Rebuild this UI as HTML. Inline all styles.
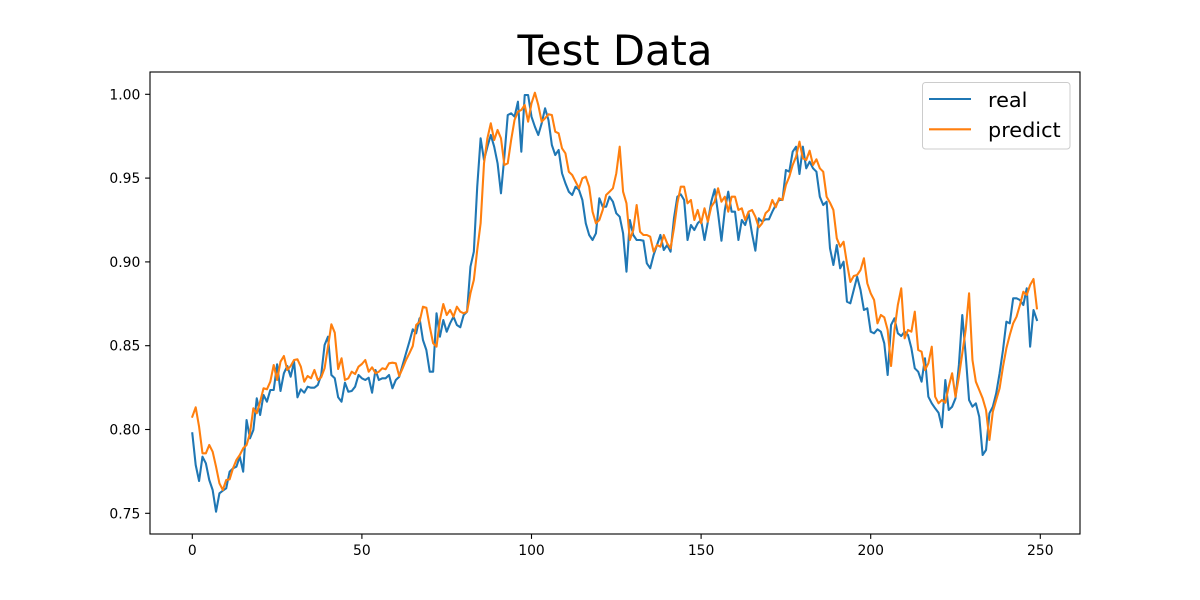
<!DOCTYPE html>
<html>
<head>
<meta charset="utf-8">
<style>
  html, body { margin: 0; padding: 0; background: #ffffff; }
  svg { display: block; }
  text { font-family: "DejaVu Sans", "Liberation Sans", sans-serif; fill: #000; }
</style>
</head>
<body>
<svg width="1200" height="600" viewBox="0 0 1200 600" xmlns="http://www.w3.org/2000/svg">
  <defs>
    <clipPath id="ax">
      <rect x="150" y="72" width="930" height="462"/>
    </clipPath>
  </defs>
  <rect x="0" y="0" width="1200" height="600" fill="#ffffff"/>

  <!-- Title -->
  <text x="615" y="65" font-size="41.7" text-anchor="middle">Test Data</text>

  <!-- Series -->
  <g clip-path="url(#ax)">
    <g transform="matrix(3.392 0 0 1 192.3 0)">
      <polyline fill="none" stroke="#1f77b4" stroke-width="2.08" stroke-linejoin="round" stroke-linecap="square" vector-effect="non-scaling-stroke"
        points="0,433.3 1,465 2,481 3,456.7 4,463.3 5,480 6,490 7,511.7 8,493.3 9,490.7 10,488.3 11,471.7 12,468.3 13,466.7 14,456.7 15,471.7 16,420 17,438.3 18,430 19,398.3 20,415 21,395 22,401.7 23,390 24,390 25,364.3 26,391 27,373.3 28,366 29,376.7 30,361.7 31,397.3 32,389.3 33,392.7 34,386.7 35,387.7 36,387.7 37,385 38,375 39,345 40,336.7 41,375 42,378.3 43,397.3 44,401.7 45,382.7 46,391.7 47,391 48,386.7 49,375 50,378.3 51,380 52,377.7 53,392.7 54,370 55,380 56,378.3 57,378.3 58,375 59,388.3 60,380 61,376.7 62,365 63,353.3 64,341.7 65,329.3 66,333.3 67,318.3 68,340 69,350 70,371.7 71,371.7 72,313.3 73,336.7 74,320 75,331.7 76,323.3 77,316.7 78,325 79,327.3 80,315 81,311.7 82,266.7 83,251.7 84,186.7 85,138.3 86,160 87,146.7 88,135 89,146.7 90,163.3 91,193.3 92,156.7 93,115 94,113.3 95,116.7 96,101.7 97,151.7 98,95 99,95 100,116.7 101,126.7 102,135 103,123.3 104,108.3 105,120 106,145 107,155 108,150 109,173.3 110,183.3 111,191.7 112,195 113,186.7 114,190 115,200 116,223.3 117,235 118,240 119,233.3 120,198.3 121,206.7 122,206.7 123,196.7 124,201.7 125,213.3 126,216.7 127,233.3 128,271.7 129,220 130,235 131,240 132,240 133,240.7 134,263.3 135,268.3 136,255 137,245 138,235 139,250 140,245 141,251.7 142,218.3 143,196.7 144,194.3 145,200 146,240 147,225 148,230 149,223.3 150,220 151,240 152,221.7 153,201.7 154,189.3 155,213.3 156,240.7 157,210 158,191.7 159,211.7 160,211.7 161,240 162,220 163,225 164,213.3 165,233.3 166,250.7 167,218.3 168,221.7 169,219.3 170,219.3 171,211.7 172,205 173,200 174,200 175,170 176,171.7 177,151.7 178,146.7 179,174 180,146.7 181,168.3 182,161.7 183,168.3 184,171.7 185,196.7 186,205 187,201.7 188,248.3 189,265 190,245 191,268.3 192,261.7 193,301.7 194,303.3 195,290 196,276.7 197,290 198,310 199,308.3 200,331.7 201,333.3 202,329.3 203,331.7 204,343.3 205,375 206,325 207,318.3 208,333.3 209,336 210,331.7 211,335 212,348.3 213,368.3 214,371.7 215,381.7 216,358.3 217,396.7 218,403.3 219,408.3 220,412.7 221,427.3 222,380 223,410 224,406.7 225,398.3 226,365 227,315 228,355 229,400 230,406.7 231,403.3 232,416.7 233,455 234,450 235,413.3 236,406.7 237,393.3 238,373.3 239,350 240,321.7 241,323.3 242,298.3 243,298.3 244,300 245,305 246,288.3 247,346.7 248,310 249,320"/>
      <polyline fill="none" stroke="#ff7f0e" stroke-width="2.08" stroke-linejoin="round" stroke-linecap="square" vector-effect="non-scaling-stroke"
        points="0,416.7 1,407.3 2,426.7 3,453.3 4,453.3 5,445 6,451.7 7,466.7 8,483.3 9,490 10,480 11,479.3 12,468.3 13,460 14,455 15,448.3 16,445 17,433.3 18,408.3 19,413.3 20,401.7 21,388.3 22,389.3 23,381.7 24,365 25,380 26,361.7 27,356 28,370 29,366 30,360 31,359.3 32,366.7 33,381.7 34,376 35,378.3 36,370 37,380 38,377.3 39,368.3 40,346.7 41,324.3 42,332.7 43,369 44,358.3 45,380 46,378.3 47,371.7 48,374 49,366.7 50,364 51,360 52,371.7 53,367.3 54,373.3 55,371.7 56,368.3 57,369.3 58,363.3 59,362.7 60,363.3 61,376 62,368.3 63,360 64,353.3 65,346 66,325 67,321.7 68,306.7 69,307.7 70,326.7 71,343.3 72,346.7 73,320 74,304 75,315 76,310 77,316.7 78,306.7 79,311.7 80,313.3 81,311.7 82,293.3 83,280 84,250 85,223.3 86,163.3 87,138.3 88,123.3 89,140 90,130 91,138.3 92,165 93,163.3 94,140 95,120 96,111.7 97,110 98,105 99,121.7 100,103.3 101,92.7 102,105 103,121.7 104,118.3 105,114.3 106,115 107,131.7 108,133.3 109,148.3 110,153.3 111,171.7 112,175 113,181.7 114,188.3 115,178.3 116,176.7 117,186.7 118,211.7 119,223.3 120,220 121,210 122,195 123,191.7 124,188.3 125,173.3 126,146.7 127,191.7 128,203.3 129,240 130,230 131,205 132,231.7 133,235 134,235 135,236.7 136,251.7 137,245 138,246.7 139,235 140,243.3 141,248.3 142,228.3 143,203.3 144,186.7 145,186.7 146,203.3 147,200 148,220 149,210 150,223.3 151,208.3 152,221.7 153,206.7 154,201.7 155,188.3 156,201.7 157,196.7 158,211.7 159,196.7 160,196.7 161,210 162,208.3 163,220 164,211.7 165,210 166,216.7 167,227.3 168,223.3 169,213.3 170,210 171,200 172,207.3 173,198.3 174,200 175,185 176,176.7 177,165 178,156.7 179,141.7 180,158.3 181,160 182,150.7 183,165 184,159.3 185,168.3 186,171.7 187,196.7 188,202.7 189,210 190,238.3 191,246.7 192,241.7 193,263.3 194,282 195,276 196,275 197,270 198,258.3 199,283.3 200,293.3 201,300 202,323.3 203,315 204,317.3 205,330 206,366 207,330 208,305 209,288.3 210,338.3 211,330 212,331.7 213,311.7 214,350 215,351.7 216,370 217,363.3 218,346.7 219,396.7 220,403.3 221,400 222,402.7 223,386.7 224,373.3 225,396.7 226,376.7 227,353.3 228,330 229,293.3 230,360 231,381.7 232,390 233,398.3 234,410 235,440 236,411.7 237,400 238,388.3 239,366.7 240,348.3 241,335 242,323.3 243,316.7 244,305 245,291.7 246,295 247,285 248,279 249,308.3"/>
    </g>
  </g>

  <!-- Axes frame -->
  <rect x="150" y="72" width="930" height="462" fill="none" stroke="#000" stroke-width="1.1"/>

  <!-- X ticks -->
  <g stroke="#000" stroke-width="1.1">
    <line x1="192.3" y1="534" x2="192.3" y2="538.9"/>
    <line x1="361.9" y1="534" x2="361.9" y2="538.9"/>
    <line x1="531.5" y1="534" x2="531.5" y2="538.9"/>
    <line x1="701.1" y1="534" x2="701.1" y2="538.9"/>
    <line x1="870.7" y1="534" x2="870.7" y2="538.9"/>
    <line x1="1040.3" y1="534" x2="1040.3" y2="538.9"/>
  </g>
  <g font-size="13.9" text-anchor="middle">
    <text x="192.3" y="555">0</text>
    <text x="361.9" y="555">50</text>
    <text x="531.5" y="555">100</text>
    <text x="701.1" y="555">150</text>
    <text x="870.7" y="555">200</text>
    <text x="1040.3" y="555">250</text>
  </g>

  <!-- Y ticks -->
  <g stroke="#000" stroke-width="1.1">
    <line x1="145.1" y1="513.3" x2="150" y2="513.3"/>
    <line x1="145.1" y1="429.5" x2="150" y2="429.5"/>
    <line x1="145.1" y1="345.7" x2="150" y2="345.7"/>
    <line x1="145.1" y1="261.9" x2="150" y2="261.9"/>
    <line x1="145.1" y1="178.1" x2="150" y2="178.1"/>
    <line x1="145.1" y1="94.3" x2="150" y2="94.3"/>
  </g>
  <g font-size="13.9" text-anchor="end">
    <text x="140.3" y="518.3">0.75</text>
    <text x="140.3" y="434.5">0.80</text>
    <text x="140.3" y="350.7">0.85</text>
    <text x="140.3" y="266.9">0.90</text>
    <text x="140.3" y="183.1">0.95</text>
    <text x="140.3" y="99.3">1.00</text>
  </g>

  <!-- Legend -->
  <rect x="922.5" y="82.5" width="147.5" height="66.5" rx="3" ry="3" fill="#ffffff" fill-opacity="0.8" stroke="#cccccc" stroke-width="1"/>
  <line x1="929" y1="99" x2="971" y2="99" stroke="#1f77b4" stroke-width="2.08"/>
  <line x1="929" y1="129.3" x2="971" y2="129.3" stroke="#ff7f0e" stroke-width="2.08"/>
  <text x="988" y="107" font-size="20.8">real</text>
  <text x="988" y="137" font-size="20.8">predict</text>
</svg>
</body>
</html>
